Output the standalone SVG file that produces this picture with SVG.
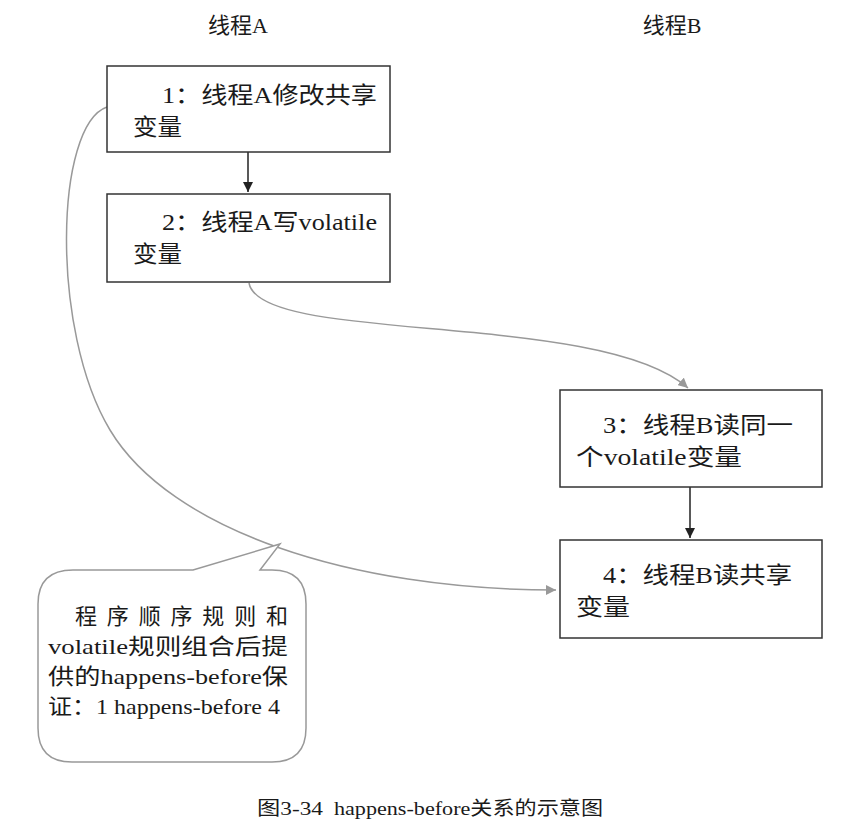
<svg xmlns="http://www.w3.org/2000/svg" width="868" height="833" viewBox="0 0 868 833">
<style>
text{font-family:"Liberation Serif","Noto Sans CJK SC",serif;fill:#1a1a1a}
.h{font-size:22px}
.t{font-size:23px}
.c{font-size:22px}
.box{fill:#fff;stroke:#333;stroke-width:1.5}
.gc{fill:none;stroke:#999;stroke-width:1.5}
.bk{fill:none;stroke:#222;stroke-width:1.5}
</style>
<defs>
<marker id="ag" viewBox="0 0 10 10" refX="10" refY="5" markerWidth="10" markerHeight="10" markerUnits="userSpaceOnUse" orient="auto"><path d="M0,0 L10,5 L0,10 Z" fill="#999"/></marker>
<marker id="ab" viewBox="0 0 10 10" refX="10" refY="5" markerWidth="10" markerHeight="10" markerUnits="userSpaceOnUse" orient="auto"><path d="M0,0 L10,5 L0,10 Z" fill="#222"/></marker>
</defs>
<rect width="868" height="833" fill="#fff"/>
<text class="h" x="238" y="33" text-anchor="middle">线程A</text>
<text class="h" x="672" y="33" text-anchor="middle">线程B</text>
<g id="connectors">
<path class="bk" d="M248,152 L248,192" marker-end="url(#ab)"/>
<path class="bk" d="M690,487 L690,538" marker-end="url(#ab)"/>
<path class="gc" d="M249,283 C260,345 600,310 688,388" marker-end="url(#ag)"/>
<path class="gc" d="M107,107 C55,125 50,330 110,430 C170,530 350,590 556,590" marker-end="url(#ag)"/>
</g>
<g id="n1">
<rect class="box" x="107" y="66" width="283" height="86"/>
<text class="t" x="162" y="103" textLength="215" lengthAdjust="spacingAndGlyphs">1：线程A修改共享</text>
<text class="t" x="133" y="135" textLength="49" lengthAdjust="spacingAndGlyphs">变量</text>
</g>
<g id="n2">
<rect class="box" x="107" y="194" width="283" height="88"/>
<text class="t" x="162" y="230" textLength="215" lengthAdjust="spacingAndGlyphs">2：线程A写volatile</text>
<text class="t" x="133" y="262" textLength="49" lengthAdjust="spacingAndGlyphs">变量</text>
</g>
<g id="n3">
<rect class="box" x="560" y="390" width="262" height="97"/>
<text class="t" x="603" y="433" textLength="190" lengthAdjust="spacingAndGlyphs">3：线程B读同一</text>
<text class="t" x="576" y="465" textLength="166" lengthAdjust="spacingAndGlyphs">个volatile变量</text>
</g>
<g id="n4">
<rect class="box" x="560" y="540" width="262" height="98"/>
<text class="t" x="603" y="583" textLength="189" lengthAdjust="spacingAndGlyphs">4：线程B读共享</text>
<text class="t" x="576" y="615" textLength="54" lengthAdjust="spacingAndGlyphs">变量</text>
</g>
<g id="note">
<path d="M73,570 L193,570 L280,544 L260,570 L272,570 Q306,570 306,604 L306,728 Q306,762 272,762 L72,762 Q38,762 38,728 L38,604 Q38,570 73,570 Z" fill="#fff" stroke="#999" stroke-width="1.5"/>
<text class="c" x="75" y="624" textLength="213" lengthAdjust="spacing">程序顺序规则和</text>
<text class="c" x="48" y="654" textLength="240" lengthAdjust="spacingAndGlyphs">volatile规则组合后提</text>
<text class="c" x="48" y="684" textLength="240" lengthAdjust="spacingAndGlyphs">供的happens-before保</text>
<text class="c" x="48" y="714" textLength="232" lengthAdjust="spacingAndGlyphs">证：1 happens-before 4</text>
</g>
<text font-size="19" y="815"><tspan x="257" textLength="66" lengthAdjust="spacingAndGlyphs">图3-34</tspan><tspan x="334" textLength="269" lengthAdjust="spacingAndGlyphs">happens-before关系的示意图</tspan></text>
</svg>
